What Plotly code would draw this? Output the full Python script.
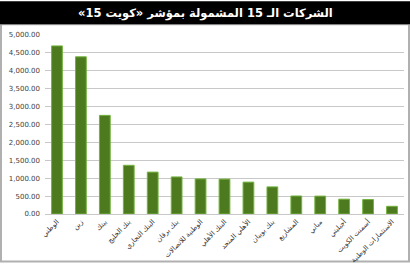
import plotly.graph_objects as go

title_text = "الشركات الـ 15 المشمولة بمؤشر «كويت 15»"
companies = ["الوطني", "زين", "بيتك", "بنك الخليج", "البنك التجاري", "بنك برقان",
             "الوطنية للاتصالات", "البنك الأهلي", "الأهلي المتحد", "بنك بوبيان",
             "المشاريع", "مباني", "أجيليتي", "أسمنت الكويت", "الاستثمارات الوطنية"]
values = [4695, 4390, 2755, 1360, 1170, 1035, 980, 975, 890, 757, 503, 500, 414, 404, 215]
y_ticks = [0, 500, 1000, 1500, 2000, 2500, 3000, 3500, 4000, 4500, 5000]

W, H = 410, 271
ml, mr, mt, mb = 45, 6, 35, 51
pw, ph = W - ml - mr, H - mt - mb

def px_x(p):
    return (p - ml) / pw

def px_y(p):
    return (H - mb - p) / ph

fig = go.Figure(go.Bar(
    x=companies, y=values,
    marker=dict(color="#4d7a1e", line=dict(color="#72b33c", width=1)),
))

fig.update_layout(
    width=W, height=H,
    margin=dict(l=ml, r=mr, t=mt, b=mb),
    paper_bgcolor="white", plot_bgcolor="white",
    bargap=0.55,
    showlegend=False,
    font=dict(family="DejaVu Sans, Noto Sans, sans-serif", color="#404040"),
    xaxis=dict(
        tickangle=-45, tickfont=dict(size=7, color="#333333"),
        showline=True, linecolor="#c8c8c8", linewidth=1,
        ticks="", showgrid=False,
    ),
    yaxis=dict(
        range=[0, 5000], tickvals=y_ticks, tickformat=",.2f",
        tickfont=dict(size=7, color="#404040"),
        showgrid=True, gridcolor="#c8c8c8", gridwidth=1,
        zeroline=False, ticks="", ticklabelstandoff=4,
    ),
    shapes=[
        dict(type="rect", xref="paper", yref="paper",
             x0=px_x(1), x1=px_x(W - 1), y0=px_y(H - 2), y1=px_y(24),
             line=dict(color="#b0b0b0", width=2), fillcolor="rgba(0,0,0,0)", layer="below"),
        dict(type="rect", xref="paper", yref="paper",
             x0=px_x(0), x1=px_x(W), y0=px_y(24), y1=px_y(0),
             line=dict(width=0), fillcolor="black", layer="below"),
    ],
    annotations=[
        dict(text="<b>\u202b" + title_text + "\u202c</b>", xref="paper", yref="paper",
             x=px_x(205), y=px_y(12.5), xanchor="center", yanchor="middle",
             showarrow=False, font=dict(size=11.5, color="white",
                                        family="DejaVu Sans, Noto Sans, sans-serif")),
    ],
)

fig.write_html("out.html")
